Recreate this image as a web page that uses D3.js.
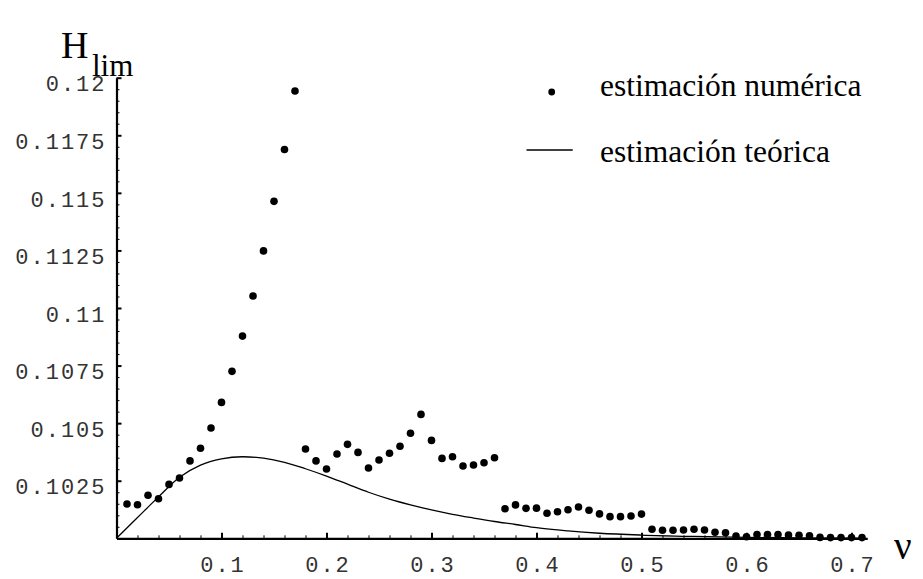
<!DOCTYPE html>
<html>
<head>
<meta charset="utf-8">
<script src="https://cdn.jsdelivr.net/npm/d3@7"></script>
<style>
  body { margin: 0; background: #fff; }
  .tick-label { font-family: "Liberation Mono", "DejaVu Sans Mono", monospace; font-size: 22px; letter-spacing: 2px; fill: #333; }
  .serif { font-family: "Liberation Serif", "Times New Roman", serif; fill: #000; }
</style>
</head>
<body>
<svg id="chart" width="923" height="579"></svg>
<script>
// Frequency ν of the numerical runs
const nu = [
  0.01, 0.02, 0.03, 0.04, 0.05, 0.06, 0.07, 0.08, 0.09, 0.10,
  0.11, 0.12, 0.13, 0.14, 0.15, 0.16, 0.17, 0.18, 0.19, 0.20,
  0.21, 0.22, 0.23, 0.24, 0.25, 0.26, 0.27, 0.28, 0.29, 0.30,
  0.31, 0.32, 0.33, 0.34, 0.35, 0.36, 0.37, 0.38, 0.39, 0.40,
  0.41, 0.42, 0.43, 0.44, 0.45, 0.46, 0.47, 0.48, 0.49, 0.50,
  0.51, 0.52, 0.53, 0.54, 0.55, 0.56, 0.57, 0.58, 0.59, 0.60,
  0.61, 0.62, 0.63, 0.64, 0.65, 0.66, 0.67, 0.68, 0.69, 0.70,
  0.71
];

// Numerical estimate of H_lim
const hNumeric = [
  0.10149, 0.10146, 0.10187, 0.10172, 0.10234, 0.10262, 0.10336, 0.10391, 0.10479, 0.10590,
  0.10725, 0.10878, 0.11052, 0.11248, 0.11463, 0.11688, 0.11942, 0.10388, 0.10336, 0.10301,
  0.10366, 0.10408, 0.10373, 0.10305, 0.10340, 0.10369, 0.10400, 0.10456, 0.10538, 0.10425,
  0.10347, 0.10354, 0.10314, 0.10318, 0.10328, 0.10350, 0.10128, 0.10145, 0.10130, 0.10131,
  0.10109, 0.10115, 0.10124, 0.10136, 0.10122, 0.10106, 0.10094, 0.10094, 0.10097, 0.10105,
  0.10039, 0.10035, 0.10035, 0.10036, 0.10039, 0.10036, 0.10026, 0.10024, 0.10010, 0.10007,
  0.10016, 0.10016, 0.10016, 0.10014, 0.10013, 0.10011, 0.10004, 0.10003, 0.10003, 0.10003,
  0.10003
];

// Theoretical estimate, sampled along ν
const nuTheory = [
  0.00, 0.02, 0.04, 0.06, 0.08, 0.10, 0.12, 0.14, 0.16, 0.18,
  0.20, 0.22, 0.24, 0.26, 0.28, 0.30, 0.32, 0.34, 0.36, 0.38,
  0.40, 0.43, 0.46, 0.50, 0.55, 0.60, 0.65, 0.71
];
const hTheory = [
  0.10000, 0.10090, 0.10180, 0.10265, 0.10318, 0.10345, 0.10354, 0.10348, 0.10330, 0.10302,
  0.10270, 0.10235, 0.10200, 0.10170, 0.10145, 0.10123, 0.10104, 0.10088, 0.10073, 0.10060,
  0.10046, 0.10032, 0.10022, 0.10014, 0.10008, 0.10004, 0.10002, 0.10001
];

const xTicks = [0.1, 0.2, 0.3, 0.4, 0.5, 0.6, 0.7];
const xTickLabels = ["0.1", "0.2", "0.3", "0.4", "0.5", "0.6", "0.7"];
const yTicks = [0.1025, 0.105, 0.1075, 0.11, 0.1125, 0.115, 0.1175, 0.12];
const yTickLabels = ["0.1025", "0.105", "0.1075", "0.11", "0.1125", "0.115", "0.1175", "0.12"];

const legendLabels = ["estimación numérica", "estimación teórica"];

const svg = d3.select("#chart");

const x = d3.scaleLinear().domain([0, 0.715]).range([116.5, 116.5 + 0.715 * 1050]);
const y = d3.scaleLinear().domain([0.1, 0.12]).range([538.3, 77.7]);

// Minor tick positions between the labelled ones
const xMinor = d3.range(1, 36).map(i => i * 0.02).filter(v => Math.abs(v * 10 - Math.round(v * 10)) > 1e-6);
const yMinor = d3.range(1, 40).map(i => 0.1 + i * 0.0005).filter(v => Math.abs(v / 0.0025 - Math.round(v / 0.0025)) > 1e-6);

// x axis
const gx = svg.append("g").attr("transform", `translate(0,${y(0.1)})`);
gx.call(d3.axisBottom(x).tickValues(xTicks).tickFormat((d, i) => xTickLabels[i])
  .tickSizeInner(-5.5).tickSizeOuter(0));
gx.select(".domain").attr("stroke", "#000").attr("stroke-width", 2.2);
gx.selectAll(".tick line").attr("stroke", "#000").attr("stroke-width", 2);
gx.selectAll(".tick text").attr("class", "tick-label").attr("y", 34).attr("dy", 0).attr("dx", 1)
  .attr("fill", null).attr("font-family", null).attr("font-size", null);

const gxm = svg.append("g").attr("transform", `translate(0,${y(0.1)})`);
gxm.call(d3.axisBottom(x).tickValues(xMinor).tickFormat("").tickSizeInner(-3).tickSizeOuter(0));
gxm.select(".domain").remove();
gxm.selectAll(".tick line").attr("stroke", "#000").attr("stroke-width", 1);

// y axis
const gy = svg.append("g").attr("transform", `translate(${x(0)},0)`);
gy.call(d3.axisLeft(y).tickValues(yTicks).tickFormat((d, i) => yTickLabels[i])
  .tickSizeInner(-5).tickSizeOuter(0).tickPadding(10));
gy.select(".domain").attr("stroke", "#000").attr("stroke-width", 2.2);
gy.selectAll(".tick line").attr("stroke", "#000").attr("stroke-width", 2);
gy.selectAll(".tick text").attr("class", "tick-label").attr("dy", "0.6em")
  .attr("fill", null).attr("font-family", null).attr("font-size", null);

const gym = svg.append("g").attr("transform", `translate(${x(0)},0)`);
gym.call(d3.axisLeft(y).tickValues(yMinor).tickFormat("").tickSizeInner(-3).tickSizeOuter(0));
gym.select(".domain").remove();
gym.selectAll(".tick line").attr("stroke", "#000").attr("stroke-width", 1);

// theoretical curve
const line = d3.line()
  .x((d, i) => x(nuTheory[i]))
  .y(d => y(d))
  .curve(d3.curveMonotoneX);
svg.append("path")
  .datum(hTheory)
  .attr("d", line)
  .attr("fill", "none")
  .attr("stroke", "#000")
  .attr("stroke-width", 1.3);

// numerical points
svg.append("g").selectAll("circle")
  .data(hNumeric)
  .join("circle")
  .attr("cx", (d, i) => x(nu[i]))
  .attr("cy", d => y(d))
  .attr("r", 3.8)
  .attr("fill", "#000");

// legend
svg.append("circle").attr("cx", 551.7).attr("cy", 92).attr("r", 3.4).attr("fill", "#000");
svg.append("text").attr("class", "serif").attr("x", 600).attr("y", 96)
  .attr("font-size", 31.5).text(legendLabels[0]);
svg.append("line").attr("x1", 526.5).attr("x2", 572.7).attr("y1", 150).attr("y2", 150)
  .attr("stroke", "#000").attr("stroke-width", 1.3);
svg.append("text").attr("class", "serif").attr("x", 600).attr("y", 162)
  .attr("font-size", 31.5).text(legendLabels[1]);

// axis titles
const yTitle = svg.append("text").attr("class", "serif").attr("x", 61).attr("y", 58);
yTitle.append("tspan").attr("font-size", 38).text("H");
yTitle.append("tspan").attr("font-size", 31).attr("x", 92).attr("y", 76).text("lim");

svg.append("text").attr("class", "serif").attr("x", 894).attr("y", 559)
  .attr("font-size", 39).text("ν");
</script>
</body>
</html>
